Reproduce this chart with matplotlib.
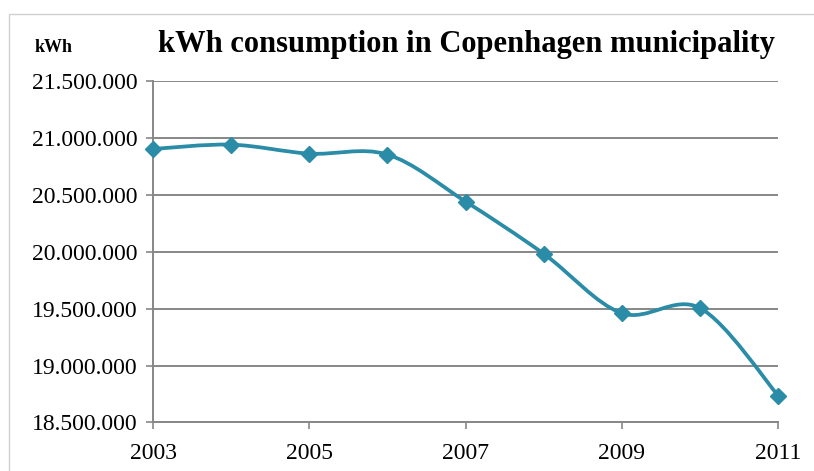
import matplotlib
matplotlib.use("Agg")
import matplotlib.pyplot as plt
from matplotlib.path import Path
from matplotlib.patches import PathPatch, Rectangle
from matplotlib.ticker import FuncFormatter, MultipleLocator

plt.rcParams.update({"font.family": ["Liberation Serif", "DejaVu Serif"]})

# ---------- data ----------
years = [2003, 2004, 2005, 2006, 2007, 2008, 2009, 2010, 2011]
kwh = [20903000, 20941000, 20862000, 20854000, 20441000,
       19982000, 19460000, 19505000, 18737000]
xticks = [2003, 2005, 2007, 2009, 2011]

LINE = "#2a8ca6"
GRID = "#878787"

fig = plt.figure(figsize=(8.14, 4.71), dpi=100)
ax = fig.add_axes([0.188, 0.103, 0.768, 0.725])

# outer chart frame (light gray, like the Excel chart area)
fig.patches.append(Rectangle((9 / 814, -0.1), 1.1, 1 - 14 / 471 + 0.1,
                             transform=fig.transFigure, fill=False,
                             edgecolor="#d0d0d0", linewidth=1.0, zorder=0))


def smooth_path(xs, ys, t=1 / 6):
    # Excel-style smoothed line: cubic Bezier through points (Catmull-Rom)
    verts = [(xs[0], ys[0])]
    codes = [Path.MOVETO]
    n = len(xs)
    for i in range(n - 1):
        p0 = (xs[i - 1], ys[i - 1]) if i > 0 else (xs[i], ys[i])
        p1 = (xs[i], ys[i])
        p2 = (xs[i + 1], ys[i + 1])
        p3 = (xs[i + 2], ys[i + 2]) if i + 2 < n else p2
        c1 = (p1[0] + (p2[0] - p0[0]) * t, p1[1] + (p2[1] - p0[1]) * t)
        c2 = (p2[0] - (p3[0] - p1[0]) * t, p2[1] - (p3[1] - p1[1]) * t)
        verts += [c1, c2, p2]
        codes += [Path.CURVE4] * 3
    return Path(verts, codes)


ax.add_patch(PathPatch(smooth_path(years, kwh), facecolor="none",
                       edgecolor=LINE, linewidth=2.7, zorder=3, clip_on=False,
                       capstyle="round", joinstyle="round"))
ax.plot(years, kwh, linestyle="none", marker="D", markersize=8.5,
        color=LINE, zorder=4, clip_on=False)

ax.set_xlim(2003, 2011)
ax.set_ylim(18500000, 21500000)
ax.set_xticks(xticks)
ax.yaxis.set_major_locator(MultipleLocator(500000))
ax.yaxis.set_major_formatter(FuncFormatter(lambda v, p: f"{int(v):,}".replace(",", ".")))
ax.grid(axis="y", color=GRID, linewidth=1.4)
ax.set_axisbelow(True)

for s in ("top", "right"):
    ax.spines[s].set_visible(False)
for s in ("left", "bottom"):
    ax.spines[s].set_color(GRID)
    ax.spines[s].set_linewidth(1.4)

ax.tick_params(axis="both", colors=GRID, labelcolor="black", labelsize=17,
               length=5, width=1.2, direction="out")
ax.tick_params(axis="x", pad=10)
ax.tick_params(axis="y", pad=6)

fig.text(0.573, 0.905, "kWh consumption in Copenhagen municipality",
         ha="center", va="center", fontsize=22, fontweight="bold")
fig.text(0.066, 0.900, "kWh", ha="center", va="center",
         fontsize=13, fontweight="bold")

fig.savefig("out.png", dpi=100, facecolor="white")
